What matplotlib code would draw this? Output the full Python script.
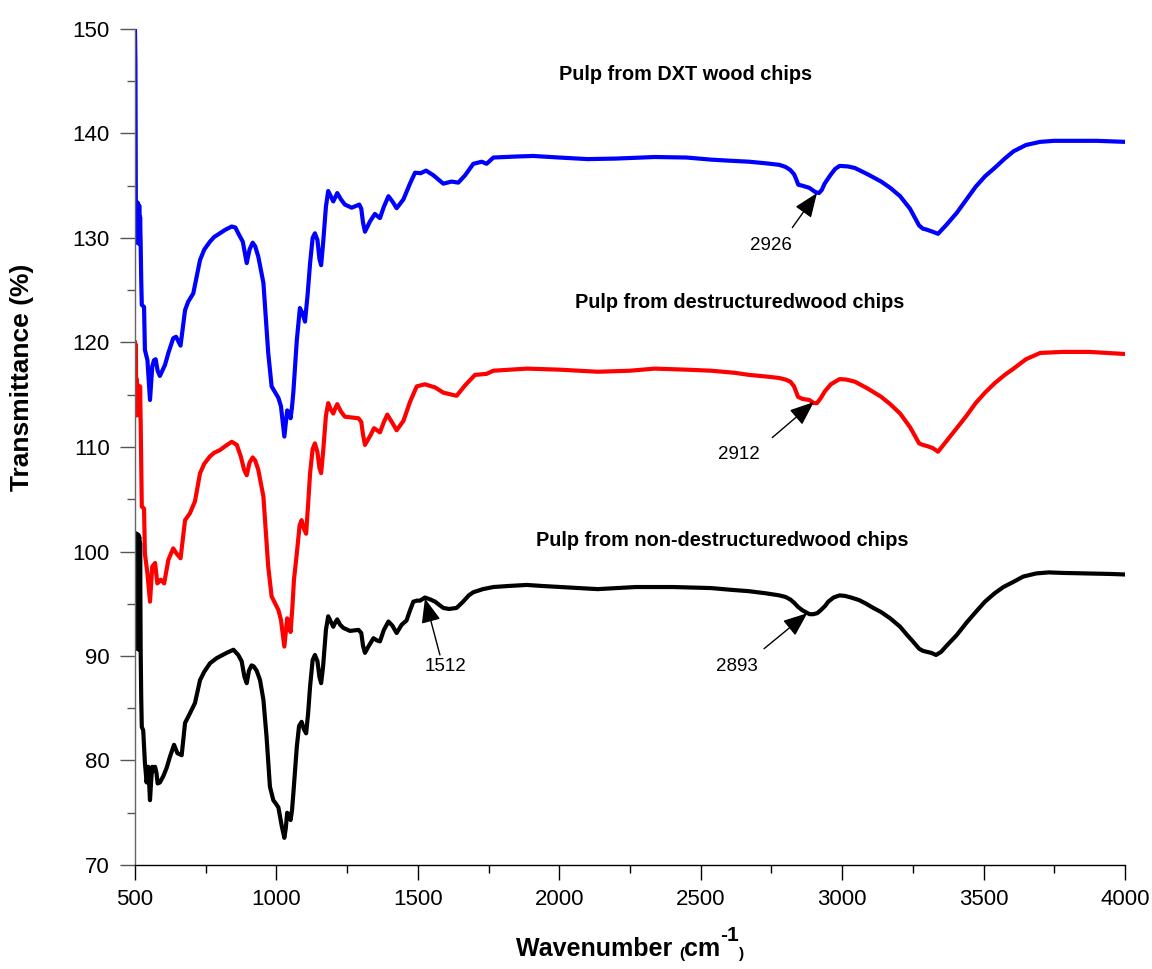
import matplotlib
matplotlib.use('Agg')
import matplotlib.pyplot as plt
from matplotlib.ticker import MultipleLocator

plt.rcParams['font.family'] = ['Liberation Sans', 'DejaVu Sans']

# ---------------- data ----------------
black_wn = [500, 501.5, 503, 504.5, 506, 507.5, 509, 510.5, 512, 513.5, 515, 516.5, 518, 520,
            522, 524, 529, 535, 541, 547, 553, 557, 561, 566, 571, 576, 580, 588, 600, 612,
            624, 638, 650, 665, 677, 694, 712, 730, 745, 765, 789, 810, 824, 848, 865, 877, 887, 895,
            903, 912, 920, 930, 942, 954, 965, 977, 989, 1000, 1007, 1019, 1028, 1033, 1038,
            1044, 1050, 1055, 1060, 1072, 1080, 1089, 1097, 1105, 1112, 1119, 1128, 1136,
            1145, 1152, 1158, 1165, 1175, 1183, 1192, 1201, 1208, 1215, 1225, 1236, 1260,
            1290, 1300, 1306, 1313, 1325, 1343, 1355, 1366, 1380, 1396, 1410, 1425, 1443,
            1460, 1470, 1484, 1497, 1508, 1525, 1545, 1561, 1575, 1590, 1610, 1637, 1660,
            1680, 1696, 1730, 1767, 1820, 1885, 1940, 2003, 2070, 2136, 2200, 2270, 2340, 2403,
            2470, 2537, 2600, 2671, 2730, 2778, 2800, 2817, 2830, 2844, 2858, 2871, 2885, 2898,
            2912, 2925, 2940, 2951, 2970, 2991, 3010, 3031, 3060, 3085, 3110, 3138, 3170, 3205,
            3230, 3250, 3272, 3285, 3299, 3315, 3332, 3350, 3370, 3405, 3440, 3472, 3505, 3539,
            3570, 3606, 3640, 3686, 3730, 3780, 3873, 3950, 4000]
black_t = [101.7, 90.9, 101.6, 90.7, 101.7, 90.8, 101.5, 90.9, 101.6, 90.6, 101.4, 90.8, 100.8, 90.6,
           86.0, 83.2, 82.9, 79.8, 77.9, 79.4, 76.2, 78.0, 79.4, 79.0, 79.4, 78.8, 77.8, 77.9, 78.5, 79.3,
           80.4, 81.5, 80.7, 80.5, 83.6, 84.5, 85.5, 87.7, 88.5, 89.3, 89.8, 90.1, 90.3, 90.6, 90.1, 89.5, 88.0, 87.4,
           88.6, 89.1, 89.0, 88.6, 87.7, 85.8, 82.3, 77.5, 76.2, 75.8, 75.5, 73.7, 72.6, 73.5, 75.0,
           74.8, 74.3, 75.2, 76.9, 81.3, 83.3, 83.7, 83.0, 82.6, 84.5, 87.1, 89.6, 90.1,
           89.5, 88.0, 87.4, 89.0, 92.5, 93.8, 93.3, 92.8, 93.2, 93.5, 93.0, 92.7, 92.4,
           92.5, 92.2, 91.0, 90.3, 90.9, 91.7, 91.5, 91.4, 92.5, 93.3, 92.9, 92.2, 93.0,
           93.4, 94.2, 95.2, 95.3, 95.3, 95.6, 95.4, 95.2, 94.9, 94.6, 94.5, 94.6, 95.2,
           95.8, 96.1, 96.4, 96.6, 96.7, 96.8, 96.7, 96.6, 96.5, 96.4, 96.5, 96.6, 96.6, 96.6,
           96.55, 96.5, 96.35, 96.2, 96.0, 95.8, 95.65, 95.4, 95.1, 94.7, 94.4, 94.2, 94.0, 94.0,
           94.1, 94.4, 94.8, 95.2, 95.6, 95.8, 95.75, 95.6, 95.35, 95.0, 94.6, 94.2, 93.6, 92.8,
           92.0, 91.4, 90.7, 90.5, 90.4, 90.3, 90.1, 90.4, 91.0, 92.0, 93.2, 94.2, 95.2, 96.0,
           96.6, 97.1, 97.6, 97.9, 98.0, 97.95, 97.9, 97.85, 97.8]

blue_wn = [500, 501.5, 503, 504.5, 506, 507.5, 509, 510.5, 512, 513.5, 515, 516.5, 518, 520,
           522, 524, 532, 535, 544, 553, 561, 567, 573, 580, 588, 606, 618, 635, 645, 661,
           677, 688, 706, 730, 745, 765, 780, 800, 820, 842, 855, 865, 881, 895, 905, 916, 925, 936, 954, 971,
           983, 1007, 1016, 1028, 1033, 1038, 1044, 1050, 1055, 1060, 1072, 1083, 1092,
           1101, 1110, 1119, 1128, 1136, 1145, 1152, 1158, 1165, 1175, 1183, 1192, 1201,
           1208, 1215, 1228, 1242, 1266, 1293, 1300, 1306, 1313, 1331, 1348, 1366, 1380,
           1396, 1410, 1425, 1449, 1472, 1490, 1510, 1529, 1555, 1590, 1619, 1643, 1667,
           1696, 1726, 1743, 1767, 1850, 1908, 2000, 2100, 2200, 2337, 2450, 2537, 2600, 2671,
           2730, 2778, 2800, 2817, 2830, 2838, 2845, 2860, 2884, 2905, 2918, 2928, 2938, 2958,
           2975, 2991, 3020, 3045, 3090, 3138, 3170, 3205, 3240, 3272, 3285, 3299, 3320, 3339,
           3370, 3405, 3440, 3472, 3505, 3539, 3575, 3606, 3650, 3700, 3750, 3800, 3900, 4000]
blue_t = [150.0, 146.8, 133.0, 129.8, 133.3, 129.6, 133.4, 129.5, 133.2, 129.7, 133.1, 129.4, 132.0, 129.5,
          126.0, 123.6, 123.4, 119.3, 118.3, 114.5, 117.7, 118.3, 118.4, 117.3, 116.8, 117.85, 119.0, 120.4, 120.55, 119.7,
          123.1, 123.9, 124.7, 127.9, 128.9, 129.65, 130.1, 130.45, 130.8, 131.1, 131.0, 130.45, 129.65, 127.6, 128.9, 129.55,
          129.2, 128.2, 125.7, 119.0,
          115.8, 114.7, 113.9, 111.0, 112.3, 113.5, 113.3, 112.75, 113.8, 115.3, 120.2, 123.3, 122.8,
          122.0, 124.5, 127.6, 130.0, 130.45, 129.8, 128.0, 127.4, 129.5, 133.0, 134.5, 134.0, 133.5,
          133.9, 134.3, 133.7, 133.2, 132.9, 133.2, 132.8, 131.5, 130.6, 131.6, 132.3, 131.9, 133.0,
          134.0, 133.5, 132.85, 133.7, 135.2, 136.25, 136.2, 136.45, 136.0, 135.2, 135.4, 135.3, 136.0,
          137.1, 137.3, 137.1, 137.7, 137.8, 137.85, 137.7, 137.55, 137.6, 137.75, 137.7, 137.5, 137.4, 137.3,
          137.15, 137.0, 136.8, 136.5, 136.1, 135.6, 135.1, 135.0, 134.8, 134.4, 134.3, 134.6, 135.2, 136.0,
          136.6, 136.9, 136.85, 136.7, 136.1, 135.4, 134.8, 134.0, 132.8, 131.2, 130.9, 130.8, 130.6, 130.4,
          131.3, 132.4, 133.7, 134.9, 135.9, 136.7, 137.6, 138.3, 138.9, 139.2, 139.3, 139.3, 139.3, 139.2]

red_wn = [500, 501.5, 503, 504.5, 506, 507.5, 509, 510.5, 512, 513.5, 515, 516.5, 518, 520,
          522, 524, 532, 535, 544, 553, 561, 571, 579, 591, 603, 618, 635, 647, 661, 677,
          694, 712, 730, 745, 765, 780, 800, 820, 842, 860, 874, 886, 895, 905, 916, 925, 936, 954, 971,
          983, 1007, 1016, 1028, 1033, 1038, 1044, 1050, 1056, 1062, 1072, 1082, 1089, 1097,
          1105, 1112, 1119, 1128, 1136, 1145, 1152, 1158, 1165, 1175, 1183, 1192, 1201, 1208,
          1215, 1228, 1242, 1290, 1300, 1306, 1313, 1331, 1345, 1366, 1380, 1392, 1410, 1425,
          1449, 1472, 1496, 1525, 1561, 1590, 1637, 1667, 1702, 1743, 1767, 1885, 2002, 2136,
          2250, 2337, 2450, 2537, 2620, 2671, 2730, 2778, 2800, 2817, 2830, 2844, 2860, 2884,
          2900, 2911, 2925, 2938, 2960, 2991, 3015, 3045, 3090, 3138, 3170, 3205, 3240, 3272,
          3285, 3299, 3320, 3339, 3370, 3405, 3440, 3472, 3505, 3539, 3575, 3606, 3650, 3700,
          3780, 3873, 4000]
red_t = [120.0, 113.2, 119.8, 113.0, 116.5, 113.3, 116.0, 113.1, 115.8, 113.2, 115.6, 113.0, 115.8, 112.5,
         108.0, 104.3, 104.1, 99.8, 97.9, 95.2, 98.55, 98.9, 96.95, 97.3, 96.95, 99.2, 100.3, 99.8, 99.35, 103.0,
         103.65, 104.8, 107.5, 108.4, 109.1, 109.45, 109.7, 110.1, 110.5, 110.2, 109.1, 107.8, 107.3, 108.5, 109.0,
         108.7, 107.8, 105.25, 98.55,
         95.7, 94.4, 93.45, 90.9, 92.3, 93.6, 93.1, 92.3, 94.5, 97.3, 99.8, 102.5, 103.0, 102.2,
         101.7, 104.5, 107.5, 109.8, 110.35, 109.5, 108.0, 107.5, 109.5, 113.0, 114.2, 113.6, 113.2, 113.7,
         114.1, 113.4, 112.9, 112.75, 112.4, 111.2, 110.2, 111.05, 111.8, 111.4, 112.4, 113.1, 112.3, 111.6,
         112.5, 114.3, 115.8, 116.0, 115.7, 115.2, 114.9, 115.9, 116.9, 117.0, 117.3, 117.5, 117.4, 117.2,
         117.3, 117.5, 117.4, 117.3, 117.1, 116.9, 116.75, 116.6, 116.45, 116.25, 115.8, 114.8, 114.6, 114.5,
         114.2, 114.2, 114.7, 115.3, 116.0, 116.5, 116.45, 116.25, 115.6, 114.8, 114.1, 113.2, 111.9, 110.35,
         110.2, 110.1, 109.9, 109.55, 110.6, 111.8, 113.0, 114.2, 115.2, 116.1, 116.9, 117.5, 118.4, 119.0,
         119.1, 119.1, 118.9]

series_titles = ["Pulp from DXT wood chips",
                 "Pulp from destructuredwood chips",
                 "Pulp from non-destructuredwood chips"]
title_pos = [(2448, 145.6), (2639, 123.8), (2575, 101.1)]

peak_labels = ["2926", "2912", "2893", "1512"]
peak_text_pos = [(2747, 129.3), (2634, 109.3), (2628, 89.0), (1596, 89.0)]
peak_tail = [(2824, 131.0), (2753, 110.9), (2724, 90.7), (1578, 90.1)]
peak_tip = [(2911, 134.3), (2900, 114.3), (2877, 94.1), (1525, 95.5)]

x_ticks = [500, 1000, 1500, 2000, 2500, 3000, 3500, 4000]
y_ticks = [70, 80, 90, 100, 110, 120, 130, 140, 150]

# ---------------- figure ----------------
fig = plt.figure(figsize=(11.52, 9.69), dpi=100)
ax = fig.add_axes([135 / 1152, 104 / 969, 990 / 1152, 836 / 969])

ax.plot(blue_wn, blue_t, color='#0000ff', lw=3.0, solid_joinstyle='round')
ax.plot(red_wn, red_t, color='#ff0000', lw=3.0, solid_joinstyle='round')
ax.plot(black_wn, black_t, color='black', lw=3.0, solid_joinstyle='round')

ax.set_xlim(500, 4000)
ax.set_ylim(70, 150)
ax.spines['top'].set_visible(False)
ax.spines['right'].set_visible(False)
ax.spines['left'].set_linewidth(1.0)
ax.spines['left'].set_color('#666666')
ax.spines['bottom'].set_linewidth(1.0)
ax.set_xticks(x_ticks)
ax.set_yticks(y_ticks)
ax.xaxis.set_minor_locator(MultipleLocator(250))
ax.yaxis.set_minor_locator(MultipleLocator(5))
ax.tick_params(which='major', direction='out', length=11, width=1, labelsize=16)
ax.tick_params(which='minor', direction='out', length=6, width=1)
ax.tick_params(axis='y', which='both', color='#555555')
ax.tick_params(axis='x', which='major', pad=6)
ax.tick_params(axis='y', which='major', pad=7)

for t, (x, y) in zip(series_titles, title_pos):
    ax.text(x, y, t, fontsize=14.3, fontweight='bold', ha='center', va='center')

for lab, tp, tail, tip in zip(peak_labels, peak_text_pos, peak_tail, peak_tip):
    ax.text(tp[0], tp[1], lab, fontsize=13.5, ha='center', va='center')
    ax.annotate('', xy=tip, xytext=tail,
                arrowprops=dict(arrowstyle='-|>,head_length=0.75,head_width=0.3',
                                color='black', lw=1.0, mutation_scale=20,
                                shrinkA=0, shrinkB=0))

# y label
fig.text(22 / 1152, (969 - 377) / 969, "Transmittance (%)", rotation=90,
         fontsize=19, fontweight='bold', ha='center', va='center')

# x label composed of pieces
fig.canvas.draw()
renderer = fig.canvas.get_renderer()
pieces = [("Wavenumber ", 18, 0), ("(", 11, -2), ("cm", 18, 0), ("-1", 15, 15), (")", 11, -2)]
texts = []
widths = []
for s, fs, dy in pieces:
    t = fig.text(0, 0, s, fontsize=fs, fontweight='bold', ha='left', va='baseline')
    w = t.get_window_extent(renderer).width
    texts.append((t, dy))
    widths.append(w)
total = sum(widths)
x0 = 630 - total / 2
base = 969 - 956
for (t, dy), w in zip(texts, widths):
    t.set_position((x0 / 1152, (base + dy) / 969))
    x0 += w

fig.savefig('out.png', dpi=100)
